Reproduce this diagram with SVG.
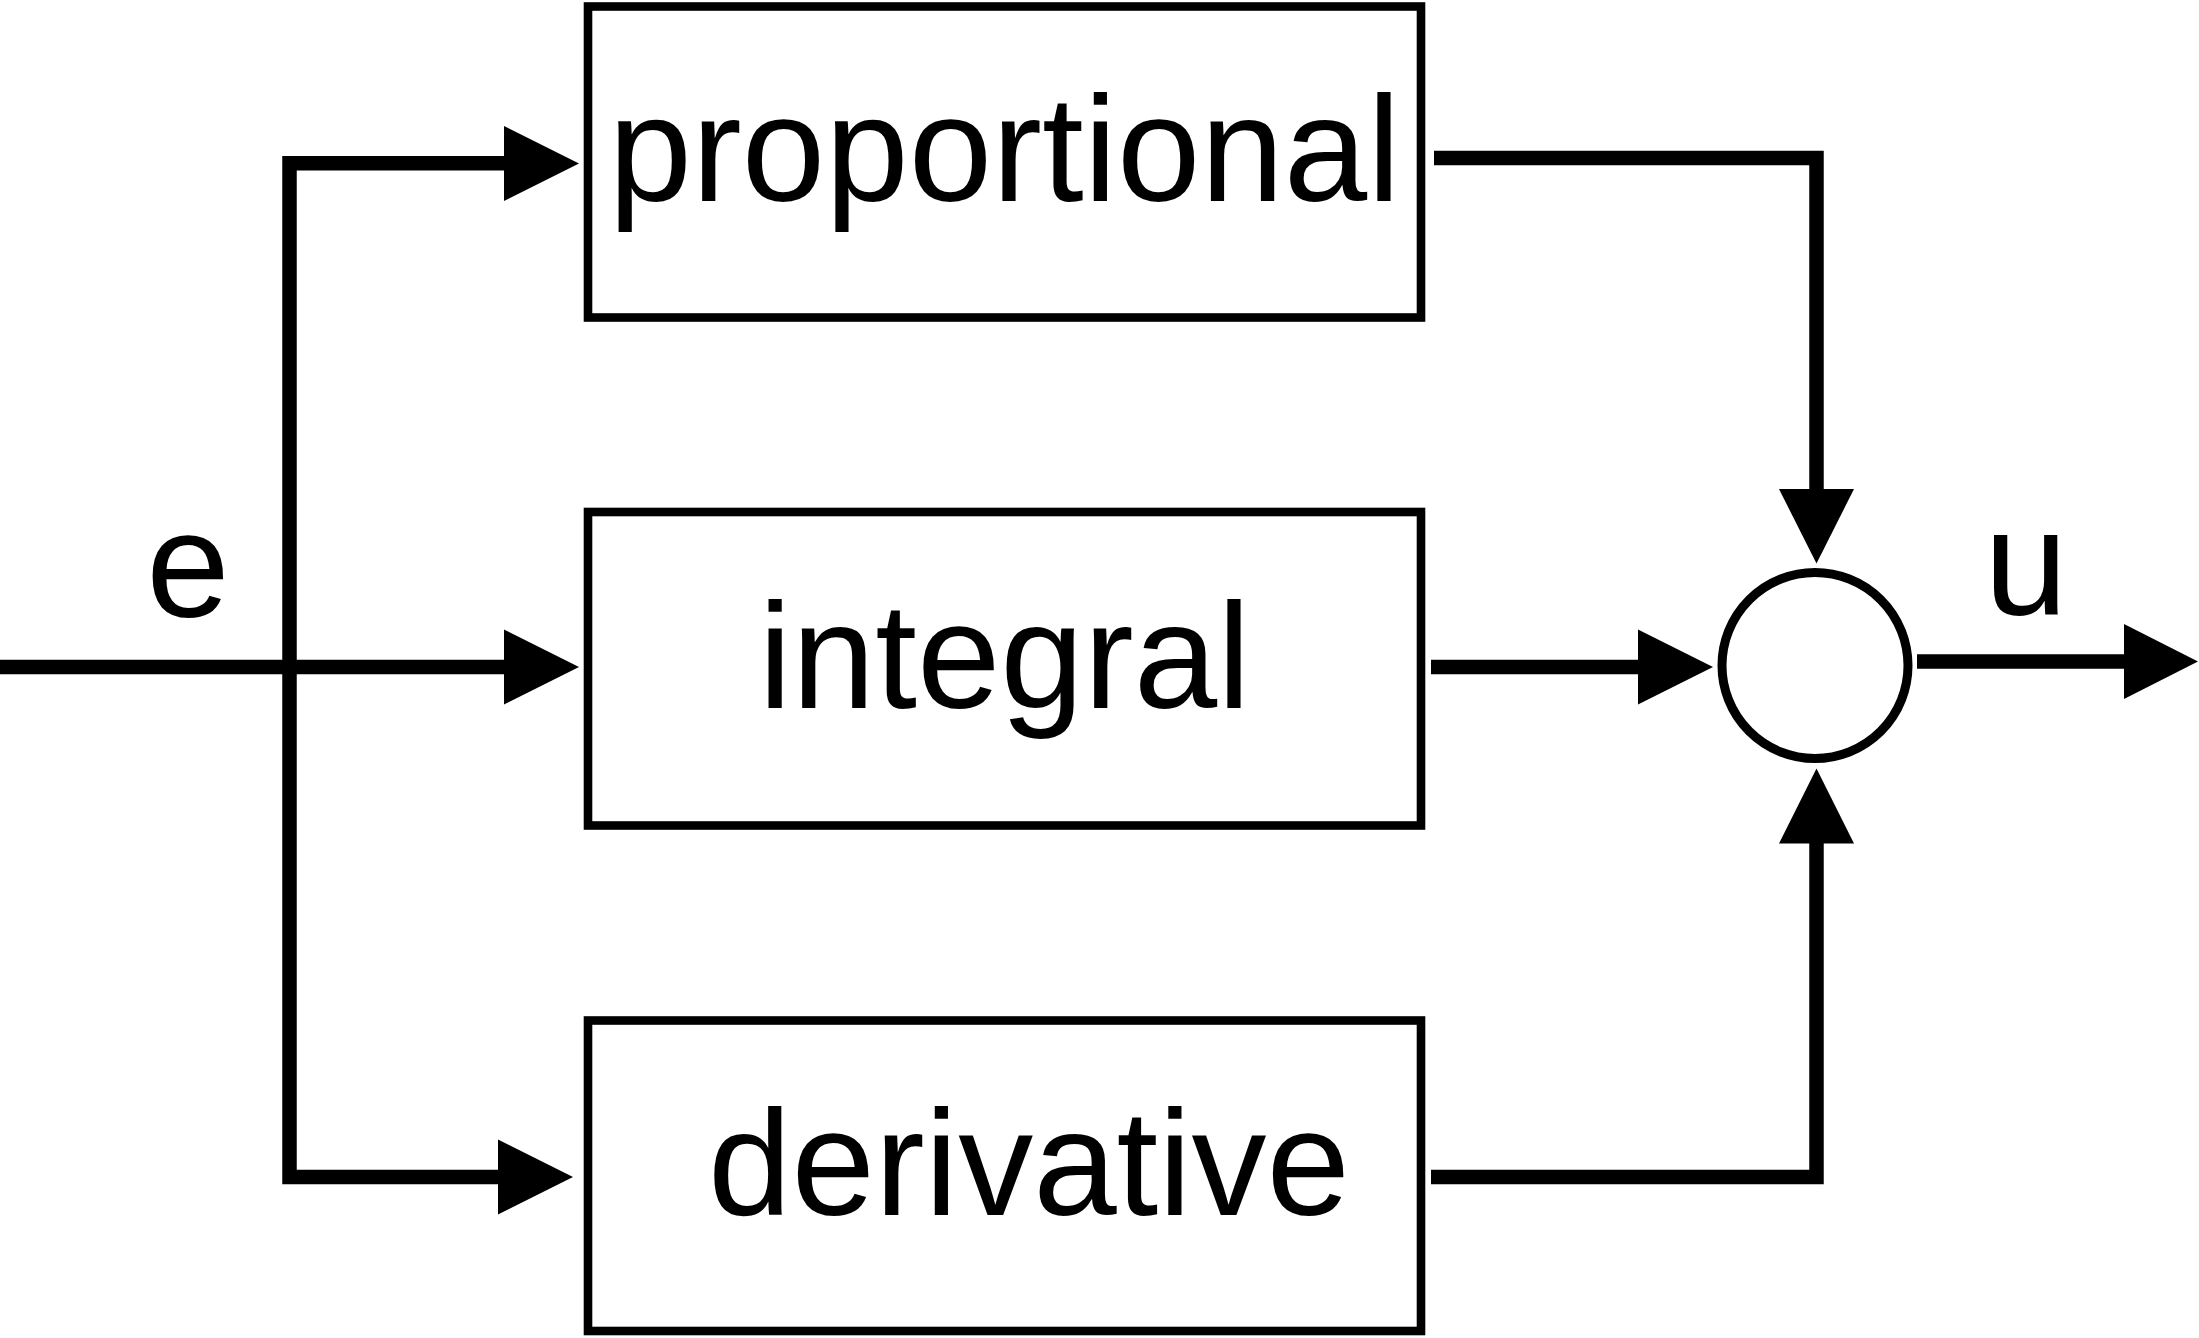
<svg xmlns="http://www.w3.org/2000/svg" width="2199" height="1338" viewBox="0 0 2199 1338">
<style>
.box{fill:#fff;stroke:#000;stroke-width:8.6}
.lbl{font-family:"Liberation Sans",Arial,sans-serif;font-size:150px;fill:#000}
.wire{fill:none;stroke:#000;stroke-width:14.5;stroke-linejoin:miter;stroke-linecap:butt}
.head{fill:#000;stroke:none}
</style>
<rect width="2199" height="1338" fill="#fff"/>
<g id="connectors">
<path class="wire" d="M0 667 H505"/>
<path class="wire" d="M505 163.2 H289.5 V1177 H499"/>
<polygon class="head" points="504,126 579,163.5 504,201"/>
<polygon class="head" points="504,629.5 579,667 504,704.5"/>
<polygon class="head" points="498,1139.5 573,1177 498,1214.5"/>
<path class="wire" d="M1434 158 H1816.5 V490"/>
<polygon class="head" points="1779,489 1816.5,563.5 1854,489"/>
<path class="wire" d="M1431 667 H1639"/>
<polygon class="head" points="1638,629.5 1713,667 1638,704.5"/>
<path class="wire" d="M1431 1177 H1816.5 V842"/>
<polygon class="head" points="1779,843.6 1816.5,768.6 1854,843.6"/>
<path class="wire" d="M1917 661.6 H2125"/>
<polygon class="head" points="2124,624 2198,661.5 2124,699"/>
<text class="lbl" x="188" y="617" text-anchor="middle">e</text>
<text class="lbl" x="2026" y="615" text-anchor="middle">u</text>
</g>
<g id="proportional">
<rect class="box" x="588" y="6.5" width="833" height="311"/>
<text class="lbl" x="1004.5" y="200.5" text-anchor="middle">proportional</text>
</g>
<g id="integral">
<rect class="box" x="588" y="512" width="833" height="313.5"/>
<text class="lbl" x="1004.5" y="708" text-anchor="middle">integral</text>
</g>
<g id="derivative">
<rect class="box" x="588" y="1020.5" width="833" height="310.5"/>
<text class="lbl" x="1029" y="1215" text-anchor="middle">derivative</text>
</g>
<g id="sum">
<circle cx="1815" cy="665.5" r="93" fill="#fff" stroke="#000" stroke-width="9"/>
</g>
</svg>
